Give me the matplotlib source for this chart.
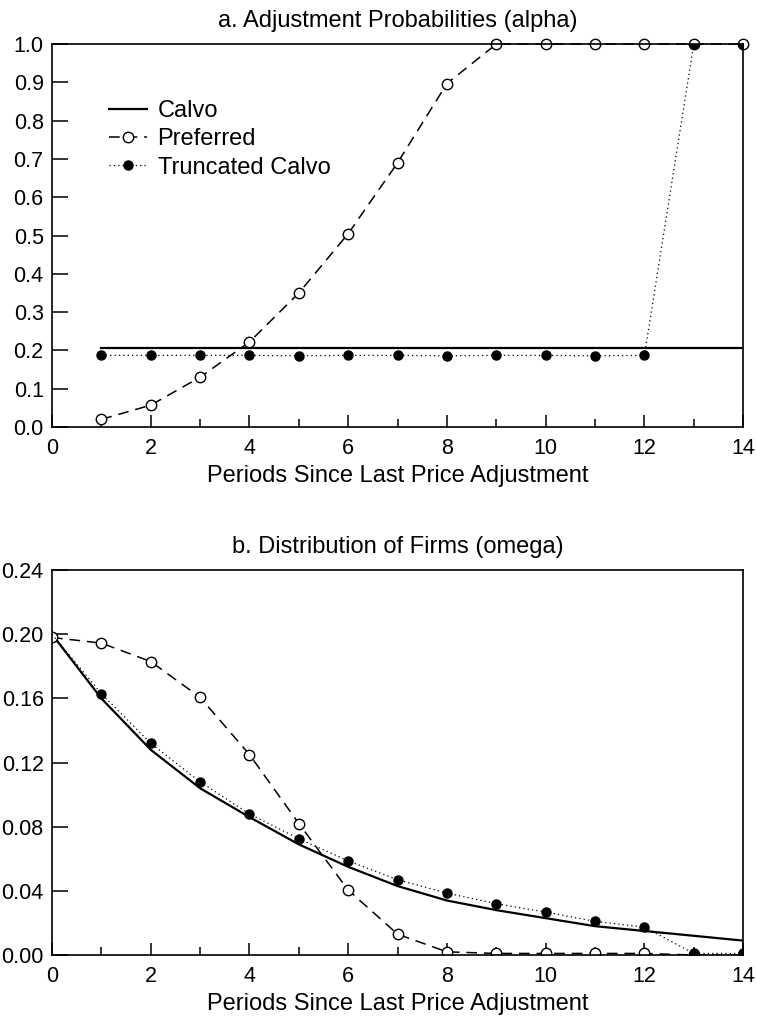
import numpy as np
import matplotlib
matplotlib.use('Agg')
import matplotlib.pyplot as plt
from matplotlib.ticker import MultipleLocator

plt.rcParams['font.family'] = ['Liberation Sans', 'DejaVu Sans']

# panel a: adjustment probabilities
periods_a = [1, 2, 3, 4, 5, 6, 7, 8, 9, 10, 11, 12, 13, 14]
calvo_a = [0.207] * 14
preferred_a = [0.02, 0.057, 0.13, 0.222, 0.35, 0.505, 0.69, 0.897, 1.0, 1.0, 1.0, 1.0, 1.0, 1.0]
trunc_a = [0.187, 0.187, 0.187, 0.187, 0.186, 0.187, 0.187, 0.186, 0.187, 0.187, 0.186, 0.187, 1.0, 1.0]

# panel b: distribution of firms
periods_b = [0, 1, 2, 3, 4, 5, 6, 7, 8, 9, 10, 11, 12, 13, 14]
calvo_b = [0.200, 0.160, 0.128, 0.104, 0.086, 0.069, 0.055, 0.043, 0.034, 0.028, 0.023, 0.018, 0.015, 0.012, 0.009]
preferred_b = [0.198, 0.1945, 0.183, 0.1607, 0.125, 0.082, 0.0405, 0.013, 0.002, 0.001, 0.001, 0.001, 0.001, 0.0, 0.0]
trunc_b = [0.200, 0.163, 0.132, 0.108, 0.088, 0.0725, 0.0587, 0.047, 0.0386, 0.032, 0.0268, 0.021, 0.0174, 0.001, 0.001]

fs = 17
tfs = 15.5

fig = plt.figure(figsize=(7.57, 10.21), dpi=100)
ax1 = fig.add_axes([0.0687, 0.5818, 0.913, 0.375])
ax2 = fig.add_axes([0.0687, 0.0646, 0.913, 0.377])


def style(ax):
    for s in ax.spines.values():
        s.set_linewidth(1.2)
    ax.xaxis.set_major_locator(MultipleLocator(2))
    ax.xaxis.set_minor_locator(MultipleLocator(1))
    ax.tick_params(axis='x', which='major', direction='in', length=9, width=1.1,
                   pad=8, labelsize=tfs, top=False)
    ax.tick_params(axis='x', which='minor', direction='in', length=6, width=1.1, top=False)
    ax.tick_params(axis='y', which='major', direction='in', length=11.5, width=1.1,
                   pad=6, labelsize=tfs, right=False)
    ax.set_xlim(0, 14)
    ax.set_xlabel('Periods Since Last Price Adjustment', fontsize=fs, labelpad=4)


# top panel
ax1.plot(periods_a, calvo_a, c='black', lw=1.6, label='Calvo')
ax1.plot(periods_a, preferred_a, c='black', lw=1.1, ls=(0, (7, 4.5)), marker='o', ms=7.5,
         mfc='white', mec='black', mew=1.0, label='Preferred', clip_on=False)
ax1.plot(periods_a, trunc_a, c='black', lw=0.9, ls=(0, (1, 2.5)), marker='o', ms=6.5,
         mfc='black', mec='black', label='Truncated Calvo')
ax1.set_ylim(0, 1.0)
ax1.yaxis.set_major_locator(MultipleLocator(0.1))
ax1.yaxis.set_major_formatter(matplotlib.ticker.FormatStrFormatter('%.1f'))
style(ax1)
ax1.set_title('a. Adjustment Probabilities (alpha)', fontsize=fs, pad=12)
ax1.legend(loc='upper left', bbox_to_anchor=(0.069, 0.879), frameon=False, fontsize=fs,
           handlelength=1.6, handletextpad=0.45, labelspacing=0.27, borderaxespad=0)

# bottom panel
ax2.plot(periods_b, calvo_b, c='black', lw=1.6)
ax2.plot(periods_b, preferred_b, c='black', lw=1.1, ls=(0, (7, 4.5)), marker='o', ms=7.5,
         mfc='white', mec='black', mew=1.0)
ax2.plot(periods_b, trunc_b, c='black', lw=0.9, ls=(0, (1, 2.5)), marker='o', ms=6.5,
         mfc='black', mec='black', markevery=list(range(1, 15)))
ax2.set_ylim(0, 0.24)
ax2.yaxis.set_major_locator(MultipleLocator(0.04))
ax2.yaxis.set_major_formatter(matplotlib.ticker.FormatStrFormatter('%.2f'))
style(ax2)
ax2.set_title('b. Distribution of Firms (omega)', fontsize=fs, pad=12)

fig.savefig('out.png', dpi=100)
